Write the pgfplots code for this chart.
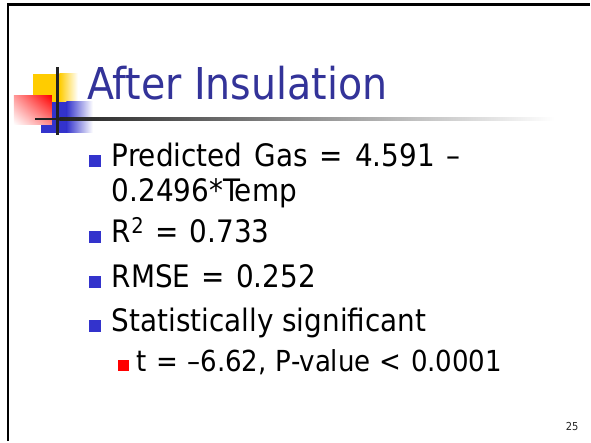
\documentclass[border=0pt]{standalone}
\usepackage{fontspec}
\setmainfont{DejaVu Sans Condensed}
\usepackage{pgfplots}
\pgfplotsset{compat=1.18}
\usetikzlibrary{shadings}
\definecolor{titleblue}{HTML}{333399}
\definecolor{bulletblue}{HTML}{3333CC}
\definecolor{logoyellow}{HTML}{FFCC00}
\definecolor{logoblue}{HTML}{3333CC}
\definecolor{logored}{HTML}{FF0000}
\definecolor{linedark}{HTML}{222222}
\begin{document}
\begin{tikzpicture}
\begin{axis}[
  width=591bp, height=442bp, scale only axis,
  xmin=0, xmax=591, ymin=0, ymax=442, y dir=reverse,
  hide axis, clip=false,
]
% background
\fill[white] (axis cs:0,0) rectangle (axis cs:591,442);
% slide frame
\draw[black, line width=2.6bp] (axis cs:8,442) -- (axis cs:8,4.5) -- (axis cs:591,4.5);
% logo
\fill[logoyellow] (axis cs:33,74) rectangle (axis cs:60,102);
\shade[left color=logoyellow, right color=white] (axis cs:59.5,74) rectangle (axis cs:78,102);
\fill[logoblue] (axis cs:41,102) rectangle (axis cs:67,133);
\shade[left color=logoblue, right color=white] (axis cs:66.5,102) rectangle (axis cs:93,133);
\shade[upper right=logored, upper left=logored!40!white, lower right=logored!45!white, lower left=white] (axis cs:14,96) rectangle (axis cs:52,125);
% title rule
\fill[linedark] (axis cs:35,118.2) rectangle (axis cs:60,120.6);
\shade[left color=linedark, right color=white] (axis cs:59.5,118.2) rectangle (axis cs:556,120.6);
\fill[linedark] (axis cs:56.4,67) rectangle (axis cs:59,135);
% title
\node[anchor=base west, inner sep=0pt, text=titleblue, font=\fontsize{44bp}{48bp}\selectfont] at (axis cs:87,100) {After Insulation};
% bullets
\addplot[bulletblue, only marks, mark=square*, mark size=5.5bp, mark options={draw=bulletblue, fill=bulletblue, line width=0pt}] coordinates {(95.5,161.5) (95.5,237.5) (95.5,282.5) (95.5,326.5)};
\addplot[logored, only marks, mark=square*, mark size=5bp, mark options={draw=logored, fill=logored, line width=0pt}] coordinates {(124,366.5)};
\node[anchor=base west, inner sep=0pt, font=\fontsize{31bp}{35bp}\selectfont] at (axis cs:112,167) {\spaceskip=0.39em\relax Predicted Gas = 4.591 –};
\node[anchor=base west, inner sep=0pt, font=\fontsize{31bp}{35bp}\selectfont] at (axis cs:112,202) {0.2496*Temp};
\node[anchor=base west, inner sep=0pt, font=\fontsize{31bp}{35bp}\selectfont] at (axis cs:112,243) {\spaceskip=0.36em\relax R\textsuperscript{2} = 0.733};
\node[anchor=base west, inner sep=0pt, font=\fontsize{31bp}{35bp}\selectfont] at (axis cs:112,288) {\spaceskip=0.36em\relax RMSE = 0.252};
\node[anchor=base west, inner sep=0pt, font=\fontsize{31bp}{35bp}\selectfont] at (axis cs:112,332) {Statistically significant};
\node[anchor=base west, inner sep=0pt, font=\fontsize{29bp}{33bp}\selectfont] at (axis cs:137,372) {\spaceskip=0.32em\relax t = –6.62, P-value < 0.0001};
% page number
\node[anchor=base west, inner sep=0pt, text=black!85, font=\fontsize{11bp}{13bp}\selectfont] at (axis cs:567,431) {25};
\end{axis}
\end{tikzpicture}
\end{document}
